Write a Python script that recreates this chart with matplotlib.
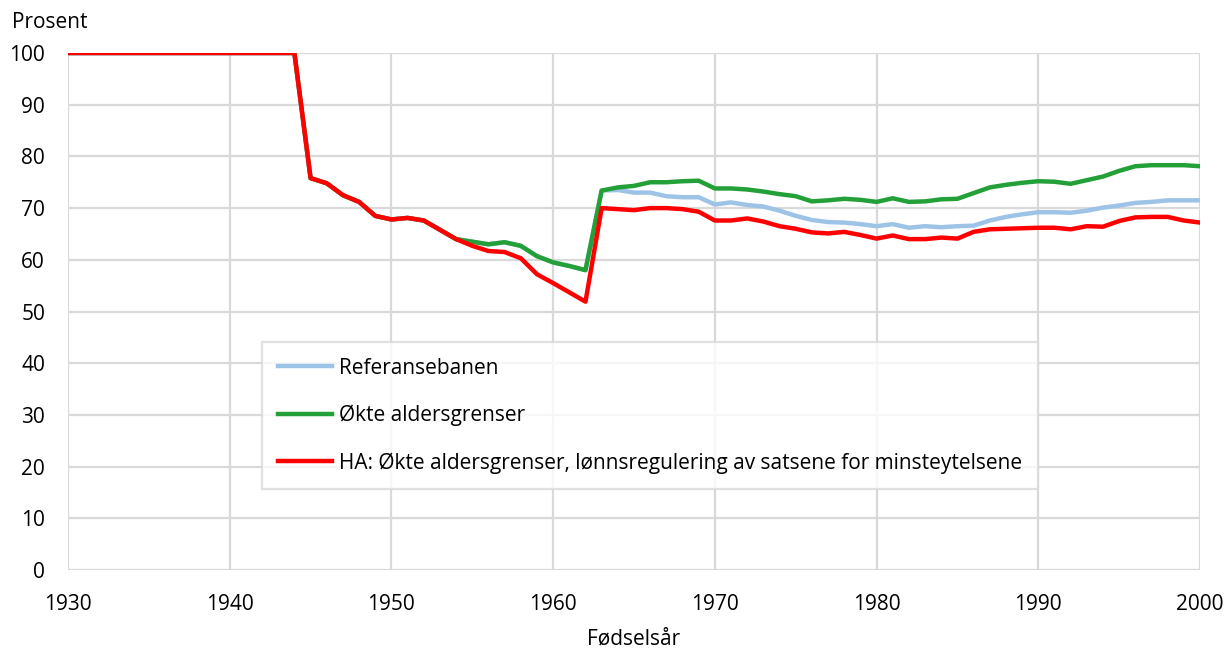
import matplotlib
matplotlib.use("Agg")
import matplotlib.pyplot as plt

plt.rcParams['font.family'] = ['Open Sans', 'DejaVu Sans']

years = list(range(1930, 2001))

# 1930-1944 all 100
early = [100.0] * 15  # 1930..1944
common_1945_1954 = [75.8, 74.8, 72.5, 71.2, 68.5, 67.8, 68.1, 67.6, 65.8, 64.0]

green_1955_1962 = [63.5, 63.0, 63.4, 62.7, 60.7, 59.5, 58.8, 58.0]
red_1955_1962 = [62.7, 61.7, 61.5, 60.3, 57.2, 55.5, 53.7, 51.9]

referanse_1963_2000 = [73.4, 73.5, 73.0, 73.0, 72.3, 72.1, 72.1, 70.7, 71.1, 70.6,
                       70.3, 69.5, 68.5, 67.7, 67.3, 67.2, 66.9, 66.5, 66.9, 66.2,
                       66.5, 66.3, 66.5, 66.6, 67.6, 68.3, 68.8, 69.2, 69.2, 69.1,
                       69.5, 70.1, 70.5, 71.0, 71.2, 71.5, 71.5, 71.5]
okte_1963_2000 = [73.4, 74.0, 74.3, 75.0, 75.0, 75.2, 75.3, 73.8, 73.8, 73.6,
                  73.2, 72.7, 72.3, 71.3, 71.5, 71.8, 71.6, 71.2, 71.9, 71.2,
                  71.3, 71.7, 71.8, 72.9, 74.0, 74.5, 74.9, 75.2, 75.1, 74.7,
                  75.4, 76.1, 77.2, 78.1, 78.3, 78.3, 78.3, 78.1]
ha_1963_2000 = [70.0, 69.8, 69.6, 70.0, 70.0, 69.8, 69.3, 67.6, 67.6, 68.0,
                67.4, 66.5, 66.0, 65.3, 65.1, 65.4, 64.8, 64.1, 64.7, 64.0,
                64.0, 64.3, 64.1, 65.4, 65.9, 66.0, 66.1, 66.2, 66.2, 65.9,
                66.5, 66.4, 67.5, 68.2, 68.3, 68.3, 67.6, 67.2]

referanse = early + common_1945_1954 + green_1955_1962 + referanse_1963_2000
okte = early + common_1945_1954 + green_1955_1962 + okte_1963_2000
ha = early + common_1945_1954 + red_1955_1962 + ha_1963_2000

labels = ["Referansebanen", "Økte aldersgrenser",
          "HA: Økte aldersgrenser, lønnsregulering av satsene for minsteytelsene"]
colors = ["#9DC3E6", "#23A038", "#FF0000"]

FS = 15

fig = plt.figure(figsize=(12.27, 6.48), dpi=100)
ax = fig.add_axes([68/1227, 1 - 570/648, (1200-68)/1227, (570-53)/648])

ax.plot(years, referanse, color=colors[0], lw=3.2, label=labels[0], solid_joinstyle='round')
ax.plot(years, okte, color=colors[1], lw=3.2, label=labels[1], solid_joinstyle='round')
ax.plot(years, ha, color=colors[2], lw=3.2, label=labels[2], solid_joinstyle='round')

ax.set_xlim(1930, 2000)
ax.set_ylim(0, 100)
ax.set_xticks(range(1930, 2001, 10))
ax.set_yticks(range(0, 101, 10))
ax.grid(True, color="#D9D9D9", lw=1.6)
ax.set_axisbelow(True)
for s in ax.spines.values():
    s.set_visible(False)
ax.tick_params(length=0, labelsize=FS, colors="#000000")
ax.tick_params(axis='x', pad=17)
ax.tick_params(axis='y', pad=16.5)

ax.set_xlabel("Fødselsår", fontsize=FS, labelpad=10)
fig.text(12/1227, 1 - 23/648, "Prosent", fontsize=FS, va='center', ha='left')

leg = ax.legend(loc='upper left', bbox_to_anchor=((262-68)/1132, (570-342)/517),
                borderaxespad=0, fontsize=FS, frameon=True, fancybox=False,
                edgecolor="#D9D9D9", handlelength=2.6, handletextpad=0.35,
                labelspacing=1.25, borderpad=0.75)
leg.get_frame().set_linewidth(1.6)

fig.savefig("out.png", dpi=100)
